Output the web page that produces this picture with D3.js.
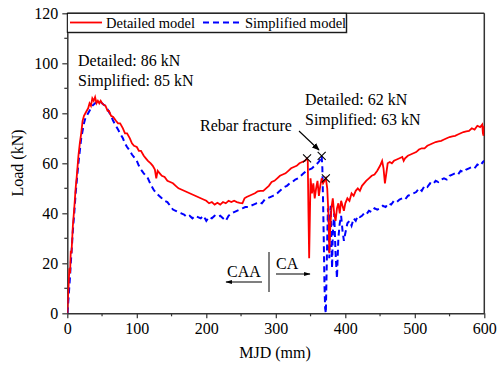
<!DOCTYPE html>
<html><head><meta charset="utf-8">
<script src="https://cdn.jsdelivr.net/npm/d3@7"></script>
<style>body{margin:0;background:#fff}svg{display:block}text{font-family:"Liberation Serif","Times New Roman",serif;}</style>
</head><body>
<svg id="c" width="500" height="368"></svg>
<script>
const detX=[0,1,2,3,4,5,6,8,10,12,14,16,18,20,22,24,26,28,30,32,34,36,38,40,42,44,46,48,50,52,55,58,60,63,66,70,73,76,80,83,86,90,93,96,100,103,106,110,113,116,120,123,126,128,130,133,136,140,144,148,152,156,160,164,168,172,176,180,184,188,192,196,200,204,208,212,216,220,224,228,232,236,240,244,248,252,255,258,262,266,270,274,278,282,286,290,294,298,302,306,310,314,318,322,326,330,334,338,342,345,346,347,348,349,350,352,354,356,358,360,362,364,366,368,370,372,374,376,377,378,380,382,384,386,388,390,392,394,396,398,400,403,406,409,412,415,418,421,424,427,430,434,438,442,446,450,453,455,457,459,461,464,467,470,474,478,482,484,486,490,494,498,502,506,510,514,518,522,526,530,534,538,542,546,550,554,558,562,566,570,574,578,582,586,590,594,597,598,599,600];
const detY=[0,6,12,18,16,25,24,35,42,50,56,63,68,72,77,79,80,81,82,84,83,86,85,86.5,84,85,84,85,84,83.5,83,81,81,79,78.5,77,76,76,74,72,72,70,68,67,66.5,65,65,63,62,61,60,59,57.5,54,57,56,55,54.5,53,52.5,52,51,50,49.5,49,48.5,48,47.5,47,46.5,46,45.5,45,44,44.5,43.5,44.2,43.5,44.5,44,45,44.5,45,44.5,44.2,44,46,46.5,47,47.5,48,48.8,49,49,50,51,52.5,53,54,55,55.5,56,57,58,58.5,59,60,60.5,61,62,61,40,22,38,54,48,52,46,50,53,47,51,54,52,53,54,50,38,24,32,42,46,40,37,42,44,40,45,43,41,44,46,45,48,47,49,50,49,51,52,53,54,55,55.5,57,59,61,58,52,56,60,60.5,60,61,61.5,62,62.5,61,62,63,63.5,64,64.5,65.5,66,66,67,67.5,68,68.5,68.8,69,69.5,70,70.5,70.8,71,71.5,72,72.5,72.8,73,74,73.5,75,74.5,75.5,72,71,75];
const simX=[0,1,2,3,4,5,6,8,10,12,14,16,18,20,22,24,26,28,30,32,34,36,38,40,42,44,46,48,50,52,55,58,60,63,66,70,73,76,80,83,86,90,93,96,100,103,106,110,113,116,120,124,128,132,136,140,144,148,152,156,160,164,168,172,176,180,184,188,192,196,200,204,208,212,216,220,224,228,232,236,240,244,248,252,256,260,264,268,272,276,280,284,288,292,296,300,304,308,312,316,320,324,328,332,336,340,344,348,352,356,360,363,366,367,368,369,370,371,372,373,374,375,376,377,378,379,380,381,382,384,386,388,390,392,394,396,398,400,403,406,409,412,415,418,421,424,427,430,434,438,442,446,450,454,458,462,466,470,474,478,482,486,490,494,498,502,506,510,514,518,522,526,530,534,538,542,546,550,554,558,562,566,570,574,578,582,586,590,594,598,600];
const simY=[0,3,7,11,15,20,24,33,40,48,54,60,65,70,73,76,78,79,80,81,82,83,83.5,84,84.5,84.5,84.7,84.5,84,83.5,83,81.5,80.5,79,77,75,73.5,72,70,68,66.5,65,63.5,62.5,61,59,57.5,56,55,54,51.5,49.5,48,47,46,45,44.5,43,41.5,41,40.5,40,39.5,38.5,39,38,39,38.5,38,39,37,38.5,38,39,38.5,39,38,37,39,40,40.5,41,41.5,42,42.5,42.5,43,43.5,44,44.5,44,45.5,46,46.5,47,47.5,48.5,49.5,50.5,51,52,52.5,53.5,54,55,56,57,57.5,58,59,60,61,63,58,45,30,12,2,0,15,30,42,35,22,40,43,28,18,32,40,24,14,30,36,39,33,29,32,36,37,35,38,37,39,38.5,39,40,39.5,41,40.5,42,41.5,42,43,42.5,44,43.5,45,44.5,45.5,46,45.5,47,47.5,48,48.5,50,49,51,50.5,52,51.5,53,52.5,53.5,54,53.5,55,55.5,56,55.5,57,56.5,57.5,58,58.5,58,59.5,59,60.5,61];
const xTicks=[0,100,200,300,400,500,600];
const yTicks=[0,20,40,60,80,100,120];
const markX=[345,366,372];
const markY=[62,63,54];
const legendLabels=["Detailed model","Simplified model"];

const svg=d3.select("#c");
const x=d3.scaleLinear().domain([0,600]).range([67.3,484.3]);
const y=d3.scaleLinear().domain([0,120]).range([313.3,13.3]);
const axCol="#333";

svg.append("defs").append("clipPath").attr("id","clip").append("rect")
 .attr("x",x(0)).attr("y",y(120)).attr("width",x(600)-x(0)).attr("height",y(0)-y(120));

svg.append("line").attr("x1",x(0)).attr("x2",x(600)).attr("y1",y(120)).attr("y2",y(120)).attr("stroke",axCol).attr("stroke-width",1.5);
svg.append("line").attr("x1",x(600)).attr("x2",x(600)).attr("y1",y(120)).attr("y2",y(0)).attr("stroke",axCol).attr("stroke-width",1.5);

const minorY=d3.range(10,120,20), minorX=d3.range(50,600,100);
svg.append("g").selectAll("line").data(minorY).join("line").attr("x1",x(0)-3).attr("x2",x(0)).attr("y1",d=>y(d)).attr("y2",d=>y(d)).attr("stroke",axCol).attr("stroke-width",1.2);
svg.append("g").selectAll("line").data(minorX).join("line").attr("y1",y(0)).attr("y2",y(0)+3).attr("x1",d=>x(d)).attr("x2",d=>x(d)).attr("stroke",axCol).attr("stroke-width",1.2);

const gx=svg.append("g").attr("transform",`translate(0,${y(0)})`).call(d3.axisBottom(x).tickValues(xTicks).tickSize(5).tickSizeOuter(0).tickPadding(4));
const gy=svg.append("g").attr("transform",`translate(${x(0)},0)`).call(d3.axisLeft(y).tickValues(yTicks).tickSize(5).tickSizeOuter(0).tickPadding(4));
[gx,gy].forEach(g=>{g.attr("font-family","Liberation Serif");g.select(".domain").attr("stroke",axCol).attr("stroke-width",1.5);
 g.selectAll(".tick line").attr("stroke",axCol).attr("stroke-width",1.2);
 g.selectAll("text").attr("font-family","Liberation Serif").attr("font-size",16).attr("fill","#000");});
gy.selectAll(".tick text").attr("dy","0.35em");

svg.append("text").attr("x",275).attr("y",358).attr("text-anchor","middle").attr("font-size",16).text("MJD (mm)");
svg.append("text").attr("transform",`translate(23,${163}) rotate(-90)`).attr("text-anchor","middle").attr("font-size",16).text("Load (kN)");

const line=d3.line().x(d=>x(d[0])).y(d=>y(d[1]));
const plot=svg.append("g").attr("clip-path","url(#clip)");
plot.append("path").datum(simX.map((v,i)=>[v,simY[i]])).attr("d",line).attr("fill","none").attr("stroke","#0000ff").attr("stroke-width",2).attr("stroke-dasharray","6,4");
plot.append("path").datum(detX.map((v,i)=>[v,detY[i]])).attr("d",line).attr("fill","none").attr("stroke","#ff0000").attr("stroke-width",1.8);

markX.forEach((mx,i)=>{const cx=x(mx),cy=y(markY[i]),s=4;
 svg.append("path").attr("d",`M${cx-s},${cy-s}L${cx+s},${cy+s}M${cx-s},${cy+s}L${cx+s},${cy-s}`).attr("stroke","#000").attr("stroke-width",1.1);});

const ann=[["Detailed: 86 kN",78,66],["Simplified: 85 kN",78,86],["Detailed: 62 kN",305,105],["Simplified: 63 kN",305,125],["Rebar fracture",200,131]];
ann.forEach(a=>svg.append("text").attr("x",a[1]).attr("y",a[2]).attr("font-size",16).text(a[0]));
svg.append("defs").html('<marker id="ah" viewBox="0 0 10 10" refX="9" refY="5" markerWidth="7" markerHeight="7" orient="auto"><path d="M0,1L10,5L0,9z" fill="#000"/></marker><marker id="ah2" viewBox="0 0 10 10" refX="9" refY="5" markerWidth="6" markerHeight="6" orient="auto"><path d="M0,2L10,5L0,8z" fill="#000"/></marker>');
svg.append("line").attr("x1",299).attr("y1",131).attr("x2",319).attr("y2",150).attr("stroke","#000").attr("stroke-width",1.1).attr("marker-end","url(#ah)");

svg.append("line").attr("x1",269).attr("x2",269).attr("y1",252).attr("y2",292).attr("stroke","#000").attr("stroke-width",1);
svg.append("text").attr("x",227).attr("y",277).attr("font-size",16).text("CAA");
svg.append("text").attr("x",276).attr("y",269).attr("font-size",16).text("CA");
svg.append("line").attr("x1",262).attr("x2",226).attr("y1",282).attr("y2",282).attr("stroke","#000").attr("stroke-width",1.1).attr("marker-end","url(#ah2)");
svg.append("line").attr("x1",276).attr("x2",310).attr("y1",274).attr("y2",274).attr("stroke","#000").attr("stroke-width",1.1).attr("marker-end","url(#ah2)");

const lg=svg.append("g");
lg.append("rect").attr("x",x(0)+1).attr("y",y(120)+1).attr("width",279).attr("height",19).attr("fill","#555");
lg.append("rect").attr("x",x(0)).attr("y",y(120)).attr("width",279).attr("height",19).attr("fill","#fff").attr("stroke","#000").attr("stroke-width",1);
lg.append("line").attr("x1",70).attr("x2",102).attr("y1",22.5).attr("y2",22.5).attr("stroke","#ff0000").attr("stroke-width",1.8);
lg.append("text").attr("x",106).attr("y",28).attr("font-size",14.5).text(legendLabels[0]);
lg.append("line").attr("x1",203).attr("x2",242).attr("y1",22.5).attr("y2",22.5).attr("stroke","#0000ff").attr("stroke-width",2).attr("stroke-dasharray","6,4");
lg.append("text").attr("x",245).attr("y",28).attr("font-size",14.5).text(legendLabels[1]);
</script>
</body></html>
